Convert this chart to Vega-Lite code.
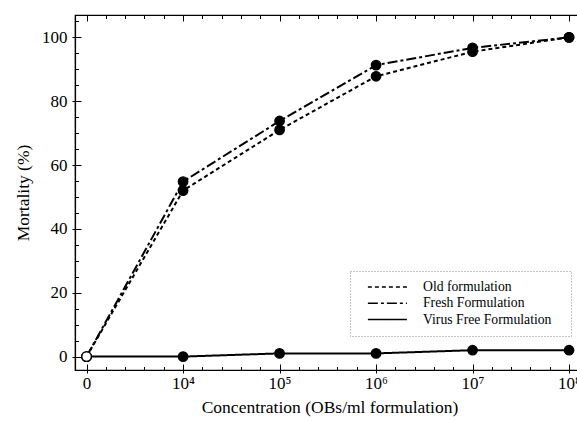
{
  "$schema": "https://vega.github.io/schema/vega-lite/v6.json",
  "width": 509,
  "height": 355,
  "autosize": "none",
  "padding": {"left": 75, "top": 15, "right": 0, "bottom": 52},
  "background": "white",
  "config": {
    "view": {"stroke": "black", "strokeWidth": 1.2},
    "font": "Liberation Serif",
    "axis": {"grid": false, "domainColor": "black", "tickColor": "black", "labelColor": "black", "titleColor": "black", "labelFont": "Liberation Serif", "titleFont": "Liberation Serif", "titleFontWeight": "normal", "tickWidth": 1}
  },
  "data": {
    "values": [
      {"series": "Old formulation", "x": 0, "y": 0},
      {"series": "Old formulation", "x": 1, "y": 52},
      {"series": "Old formulation", "x": 2, "y": 71},
      {"series": "Old formulation", "x": 3, "y": 87.8},
      {"series": "Old formulation", "x": 4, "y": 95.5},
      {"series": "Old formulation", "x": 5, "y": 100},
      {"series": "Fresh Formulation", "x": 0, "y": 0},
      {"series": "Fresh Formulation", "x": 1, "y": 54.8},
      {"series": "Fresh Formulation", "x": 2, "y": 73.8},
      {"series": "Fresh Formulation", "x": 3, "y": 91.3},
      {"series": "Fresh Formulation", "x": 4, "y": 96.7},
      {"series": "Fresh Formulation", "x": 5, "y": 100},
      {"series": "Virus Free Formulation", "x": 0, "y": 0},
      {"series": "Virus Free Formulation", "x": 1, "y": 0},
      {"series": "Virus Free Formulation", "x": 2, "y": 1},
      {"series": "Virus Free Formulation", "x": 3, "y": 1},
      {"series": "Virus Free Formulation", "x": 4, "y": 2},
      {"series": "Virus Free Formulation", "x": 5, "y": 2}
    ]
  },
  "layer": [
    {
      "mark": {"type": "line", "strokeWidth": 2, "color": "black"},
      "encoding": {
        "x": {
          "field": "x", "type": "quantitative",
          "scale": {"domain": [-0.12, 5.155], "nice": false, "zero": false},
          "axis": {
            "orient": "bottom",
            "title": "Concentration (OBs/ml formulation)",
            "titleFontSize": 17.5, "titlePadding": 7,
            "values": [0, 1, 2, 3, 4, 5],
            "labelExpr": "datum.value === 0 ? '0' : datum.value === 1 ? '10⁴' : datum.value === 2 ? '10⁵' : datum.value === 3 ? '10⁶' : datum.value === 4 ? '10⁷' : '10⁸'",
            "labelFontSize": 17, "labelOverlap": false, "labelPadding": 5, "labelFlush": false,
            "ticks": false, "domainWidth": 1.2
          }
        },
        "y": {
          "field": "y", "type": "quantitative",
          "scale": {"domain": [-4.2, 107], "nice": false, "zero": false},
          "axis": {
            "orient": "left",
            "title": "Mortality (%)",
            "titleFontSize": 17.5, "titlePadding": 9,
            "values": [0, 20, 40, 60, 80, 100],
            "labelFontSize": 17, "labelOverlap": false, "labelPadding": 8, "labelFlush": false,
            "ticks": false, "domainWidth": 1.2
          }
        },
        "strokeDash": {
          "field": "series", "type": "nominal",
          "scale": {"domain": ["Old formulation", "Fresh Formulation", "Virus Free Formulation"], "range": [[4, 3], [10, 3, 3, 3], [1, 0]]},
          "legend": {
            "orient": "none", "legendX": 275, "legendY": 256,
            "title": null,
            "symbolType": "M0.31,0H6.68", "symbolStrokeWidth": 1.5, "symbolStrokeColor": "black", "symbolFillColor": "transparent", "symbolSize": 150,
            "labelFontSize": 13.7, "labelFont": "Liberation Serif", "labelColor": "black", "labelOffset": 50,
            "labelExpr": "datum.label + '\u2800'",
            "strokeColor": "#888", "padding": 9, "rowPadding": 2.3,
            "encode": {"legend": {"update": {"strokeDash": {"value": [1, 2]}}}}
          }
        }
      }
    },
    {
      "mark": {"type": "point", "filled": true, "size": 90, "strokeWidth": 1.3, "stroke": "black", "opacity": 1},
      "encoding": {
        "x": {
          "field": "x", "type": "quantitative",
          "axis": {"orient": "bottom", "offset": -6, "tickSize": 9, "title": null, "labels": false, "domain": false, "values": [0, 1, 2, 3, 4, 5]}
        },
        "y": {
          "field": "y", "type": "quantitative",
          "axis": {"orient": "left", "offset": -6, "tickSize": 9, "title": null, "labels": false, "domain": false, "values": [0, 20, 40, 60, 80, 100]}
        },
        "fill": {"condition": {"test": "datum.x === 0", "value": "white"}, "value": "black"}
      }
    },
    {
      "mark": {"type": "point", "opacity": 0},
      "encoding": {
        "x": {
          "field": "x", "type": "quantitative",
          "axis": {"orient": "bottom", "offset": -3.5, "tickSize": 3.5, "title": null, "labels": false, "domain": false,
            "values": [0.2,0.4,0.6,0.8,1.2,1.4,1.6,1.8,2.2,2.4,2.6,2.8,3.2,3.4,3.6,3.8,4.2,4.4,4.6,4.8]}
        },
        "y": {
          "field": "y", "type": "quantitative",
          "axis": {"orient": "left", "offset": -3.5, "tickSize": 3.5, "title": null, "labels": false, "domain": false,
            "values": [5,10,15,25,30,35,45,50,55,65,70,75,85,90,95,105]}
        }
      }
    },
    {
      "mark": {"type": "point", "opacity": 0},
      "encoding": {
        "x": {
          "field": "x", "type": "quantitative",
          "axis": {"orient": "top", "offset": -6, "tickSize": 6, "title": null, "labels": false, "domain": false, "values": [0, 1, 2, 3, 4, 5]}
        },
        "y": {
          "field": "y", "type": "quantitative",
          "axis": {"orient": "right", "offset": -6, "tickSize": 6, "title": null, "labels": false, "domain": false, "values": [0, 20, 40, 60, 80, 100]}
        }
      }
    },
    {
      "mark": {"type": "point", "opacity": 0},
      "encoding": {
        "x": {
          "field": "x", "type": "quantitative",
          "axis": {"orient": "top", "offset": -3.5, "tickSize": 3.5, "title": null, "labels": false, "domain": false,
            "values": [0.2,0.4,0.6,0.8,1.2,1.4,1.6,1.8,2.2,2.4,2.6,2.8,3.2,3.4,3.6,3.8,4.2,4.4,4.6,4.8]}
        },
        "y": {
          "field": "y", "type": "quantitative",
          "axis": {"orient": "right", "offset": -3.5, "tickSize": 3.5, "title": null, "labels": false, "domain": false,
            "values": [5,10,15,25,30,35,45,50,55,65,70,75,85,90,95,105]}
        }
      }
    }
  ],
  "resolve": {"axis": {"x": "independent", "y": "independent"}}
}
